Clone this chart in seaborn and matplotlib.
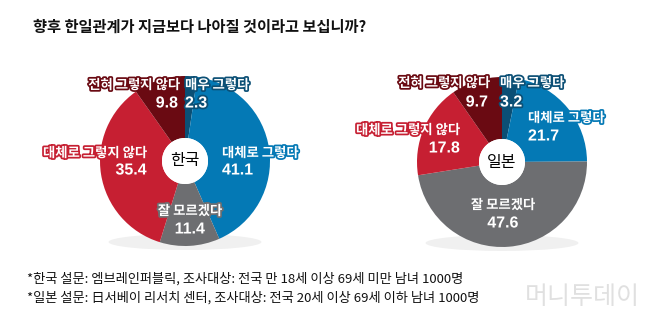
import matplotlib
matplotlib.use("Agg")
import matplotlib.pyplot as plt
import matplotlib.patheffects as pe
from matplotlib.patches import Circle, Ellipse
import seaborn as sns

sns.set_theme(style="white")
plt.rcParams['font.family'] = ['Noto Sans CJK KR', 'DejaVu Sans']

title = "향후 한일관계가 지금보다 나아질 것이라고 보십니까?"
categories = ["매우 그렇다", "대체로 그렇다", "잘 모르겠다", "대체로 그렇지 않다", "전혀 그렇지 않다"]
korea_values = [2.3, 41.1, 11.4, 35.4, 9.8]
japan_values = [3.2, 21.7, 47.6, 17.8, 9.7]
pie_names = ["한국", "일본"]
colors = ["#0b4f75", "#0479b5", "#6d6e71", "#c61f32", "#6a0a12"]
footnotes = [
    "*한국 설문: 엠브레인퍼블릭, 조사대상: 전국 만 18세 이상 69세 미만 남녀 1000명",
    "*일본 설문: 日서베이 리서치 센터, 조사대상: 전국 20세 이상 69세 이하 남녀 1000명",
]

W, H = 654, 328
fig = plt.figure(figsize=(W / 100, H / 100), dpi=100)
ax = fig.add_axes([0, 0, 1, 1])
ax.set_axis_off()

def Y(y):
    return H - y

R, r_in = 85, 23

def draw_pie(vals, cx, cy, name, label_specs):
    # soft shadow
    ax.add_patch(Ellipse((cx, Y(cy + R - 4)), 2 * R * 0.9, 16, color="#000000", alpha=0.06, lw=0))
    ax.pie(vals, colors=colors, center=(cx, Y(cy)), radius=R, startangle=90,
           counterclock=False, wedgeprops=dict(width=R - r_in, linewidth=0))
    ax.add_patch(Circle((cx, Y(cy)), r_in, color="white", lw=0, zorder=5))
    ax.text(cx, Y(cy), name, ha="center", va="center", fontsize=11.5, color="black", zorder=6)
    for i, (lx, ly, ha, nx, ny, nha) in enumerate(label_specs):
        c = colors[i]
        ax.text(lx, Y(ly), categories[i], ha=ha, va="center", fontsize=9.6, fontweight="bold",
                color="white", zorder=7,
                path_effects=[pe.withStroke(linewidth=2.5, foreground=c)])
        ax.text(nx, Y(ny), f"{vals[i]:.1f}", ha=nha, va="center", fontsize=11.5, fontweight="bold",
                family=["Liberation Sans", "DejaVu Sans"],
                color="white", zorder=7,
                path_effects=[pe.withStroke(linewidth=2.5, foreground=c)])

korea_specs = [
    (185, 85, "left", 185, 103, "left"),
    (222, 153, "left", 222, 170, "left"),
    (190, 211, "center", 190, 229, "center"),
    (147, 153, "right", 147, 170, "right"),
    (180, 85, "right", 178, 103, "right"),
]
japan_specs = [
    (500, 83, "left", 500, 102, "left"),
    (528, 118, "left", 528, 136, "left"),
    (503, 205, "center", 503, 223, "center"),
    (460, 130, "right", 460, 148, "right"),
    (490, 83, "right", 488, 102, "right"),
]

draw_pie(korea_values, 185, 161, pie_names[0], korea_specs)
draw_pie(japan_values, 502, 162, pie_names[1], japan_specs)

ax.text(33, Y(27), title, ha="left", va="center", fontsize=11, fontweight="bold", color="#111111")
ax.text(27, Y(279), footnotes[0], ha="left", va="center", fontsize=9.5, color="#111111")
ax.text(27, Y(298), footnotes[1], ha="left", va="center", fontsize=9.5, color="#111111")
ax.text(640, Y(297), "머니투데이", ha="right", va="center", fontsize=18, color="#cccccc", alpha=0.6)

ax.set_xlim(0, W)
ax.set_ylim(0, H)
ax.set_aspect("equal")

fig.savefig("out.png", dpi=100, facecolor="white")
